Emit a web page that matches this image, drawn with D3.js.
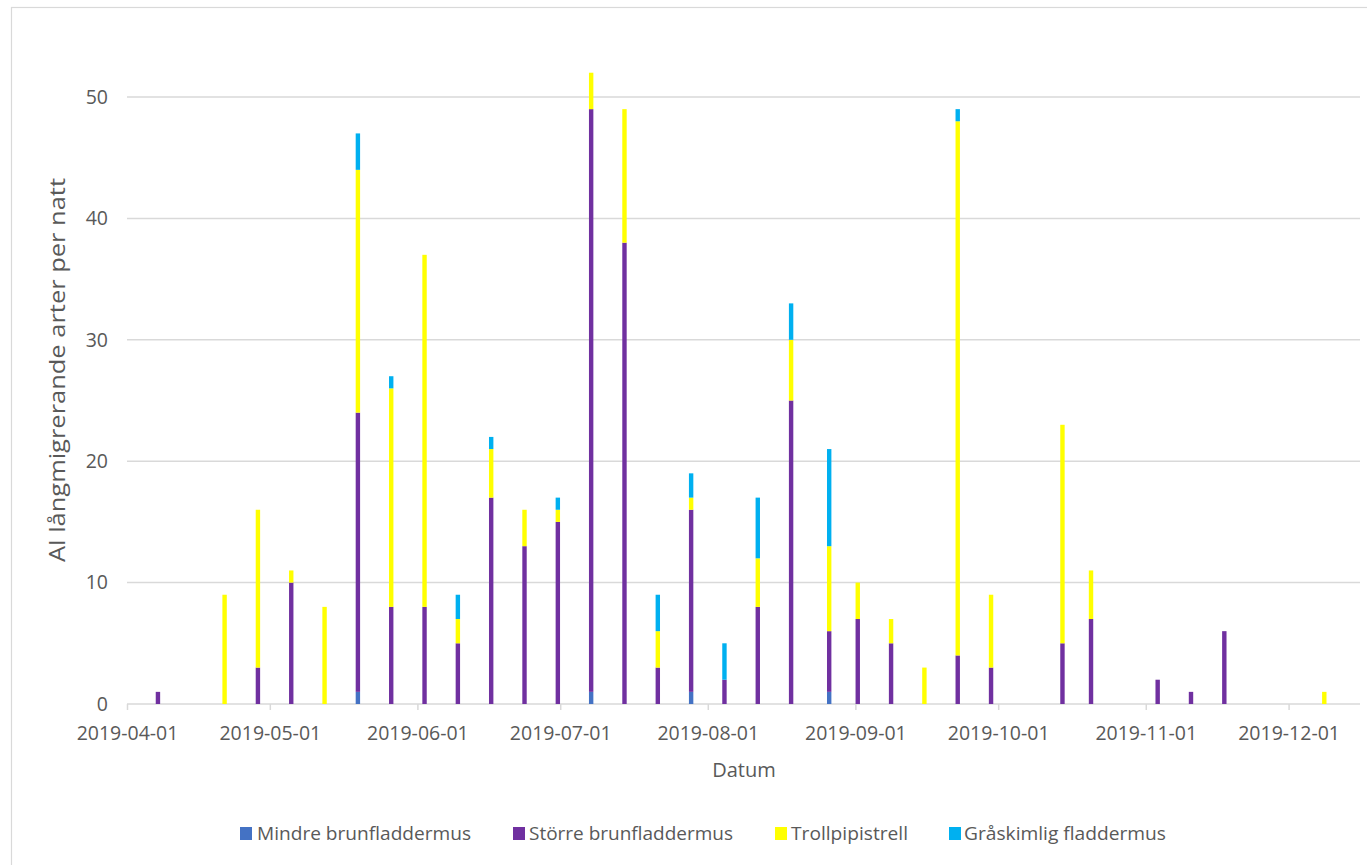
<!DOCTYPE html>
<html>
<head>
<meta charset="utf-8">
<script src="https://cdn.jsdelivr.net/npm/d3@7"></script>
<style>
  html, body { margin: 0; padding: 0; background: #ffffff; }
  svg { display: block; }
  text { font-family: "Open Sans", "Liberation Sans", sans-serif; fill: #595959; }
</style>
</head>
<body>
<svg id="chart" width="1367" height="865"></svg>
<script>
// Nightly counts of long-distance migrating bat species, 2019
const dates = [
  "2019-04-07", "2019-04-21", "2019-04-28", "2019-05-05", "2019-05-12", "2019-05-19",
  "2019-05-26", "2019-06-02", "2019-06-09", "2019-06-16", "2019-06-23", "2019-06-30",
  "2019-07-07", "2019-07-14", "2019-07-21", "2019-07-28", "2019-08-04", "2019-08-11",
  "2019-08-18", "2019-08-26", "2019-09-01", "2019-09-08", "2019-09-15", "2019-09-22",
  "2019-09-29", "2019-10-14", "2019-10-20", "2019-11-03", "2019-11-10", "2019-11-17",
  "2019-12-08"
];
const mindreBrunfladdermus = [0,0,0,0,0,1, 0,0,0,0,0,0, 1,0,0,1,0,0, 0,1,0,0,0,0, 0,0,0,0,0,0, 0];
const storreBrunfladdermus = [1,0,3,10,0,23, 8,8,5,17,13,15, 48,38,3,15,2,8, 25,5,7,5,0,4, 3,5,7,2,1,6, 0];
const trollpipistrell      = [0,9,13,1,8,20, 18,29,2,4,3,1, 3,11,3,1,0,4, 5,7,3,2,3,44, 6,18,4,0,0,0, 1];
const graskimligFladdermus = [0,0,0,0,0,3, 1,0,2,1,0,1, 0,0,3,2,3,5, 3,8,0,0,0,1, 0,0,0,0,0,0, 0];

const seriesNames = ["Mindre brunfladdermus", "Större brunfladdermus", "Trollpipistrell", "Gråskimlig fladdermus"];
const seriesValues = [mindreBrunfladdermus, storreBrunfladdermus, trollpipistrell, graskimligFladdermus];
const seriesColors = ["#4472C4", "#7030A0", "#FFFF00", "#00B0F0"];

const xTickLabels = ["2019-04-01", "2019-05-01", "2019-06-01", "2019-07-01", "2019-08-01",
                     "2019-09-01", "2019-10-01", "2019-11-01", "2019-12-01"];
const yTickLabels = [0, 10, 20, 30, 40, 50];
const xDomain = ["2019-04-01", "2019-12-16"];

const xTitle = "Datum";
const yTitle = "Al långmigrerande arter per natt";

// ---- layout ----
const plot = { left: 127, right: 1360, top: 97, bottom: 704 };
const gridColor = "#d9d9d9";
const barWidth = 4.4;

const svg = d3.select("#chart");
const parse = d3.utcParse("%Y-%m-%d");

svg.append("rect").attr("width", 1367).attr("height", 865).attr("fill", "#ffffff");
// chart frame
svg.append("rect")
  .attr("x", 11.5).attr("y", 7.5).attr("width", 1400).attr("height", 900)
  .attr("fill", "none").attr("stroke", gridColor).attr("stroke-width", 1.2);

const x = d3.scaleUtc()
  .domain(xDomain.map(parse))
  .range([plot.left, plot.right]);

const y = d3.scaleLinear()
  .domain([0, 50])
  .range([plot.bottom, plot.top]);

// horizontal gridlines
svg.append("g")
  .selectAll("line")
  .data(yTickLabels)
  .join("line")
  .attr("x1", plot.left).attr("x2", plot.right)
  .attr("y1", d => y(d)).attr("y2", d => y(d))
  .attr("stroke", gridColor).attr("stroke-width", 1.5);

// y axis labels
const yAxis = svg.append("g")
  .attr("transform", `translate(${plot.left},0)`)
  .call(d3.axisLeft(y).tickValues(yTickLabels).tickSize(0).tickPadding(19).tickFormat(d3.format("d")));
yAxis.select(".domain").remove();
yAxis.selectAll("text")
  .attr("font-size", "19.5px")
  .attr("font-family", "\"Open Sans\", sans-serif")
  .attr("fill", "#595959");

// x axis with month ticks
const xAxis = svg.append("g")
  .attr("transform", `translate(0,${plot.bottom})`)
  .call(d3.axisBottom(x)
    .tickValues(xTickLabels.map(parse))
    .tickSize(6)
    .tickFormat(d3.utcFormat("%Y-%m-%d")));
xAxis.select(".domain").remove();
xAxis.selectAll(".tick line").attr("stroke", gridColor).attr("stroke-width", 1.5);
xAxis.selectAll("text")
  .attr("y", 36).attr("dy", null)
  .attr("font-size", "19.5px")
  .attr("font-family", "\"Open Sans\", sans-serif")
  .attr("fill", "#595959");

// stacked bars
const table = dates.map((d, i) => {
  const row = { date: parse(d) };
  seriesNames.forEach((name, k) => { row[name] = seriesValues[k][i]; });
  return row;
});
const stacked = d3.stack().keys(seriesNames)(table);
const halfDay = 12 * 60 * 60 * 1000;

svg.append("g")
  .selectAll("g")
  .data(stacked)
  .join("g")
  .attr("fill", (s, k) => seriesColors[k])
  .selectAll("rect")
  .data(s => s.filter(p => p[1] > p[0]))
  .join("rect")
  .attr("x", p => x(new Date(p.data.date.getTime() + halfDay)) - barWidth / 2)
  .attr("width", barWidth)
  .attr("y", p => y(p[1]))
  .attr("height", p => y(p[0]) - y(p[1]));

// axis titles
svg.append("text")
  .attr("x", 744).attr("y", 777)
  .attr("text-anchor", "middle")
  .attr("font-size", "20px")
  .text(xTitle);

svg.append("text")
  .attr("transform", "translate(65,370) rotate(-90)")
  .attr("text-anchor", "middle")
  .attr("font-size", "22px")
  .attr("textLength", 384)
  .attr("lengthAdjust", "spacingAndGlyphs")
  .text(yTitle);

// legend
const legendItems = [
  { box: 240, text: 257, width: 214 },
  { box: 513, text: 529, width: 204 },
  { box: 775, text: 791, width: 117 },
  { box: 949, text: 964, width: 202 }
];
const legend = svg.append("g");
seriesNames.forEach((name, k) => {
  const it = legendItems[k];
  legend.append("rect")
    .attr("x", it.box).attr("y", 827)
    .attr("width", 12).attr("height", 13)
    .attr("fill", seriesColors[k]);
  legend.append("text")
    .attr("x", it.text).attr("y", 840)
    .attr("font-size", "19px")
    .attr("textLength", it.width)
    .attr("lengthAdjust", "spacingAndGlyphs")
    .text(name);
});
</script>
</body>
</html>
